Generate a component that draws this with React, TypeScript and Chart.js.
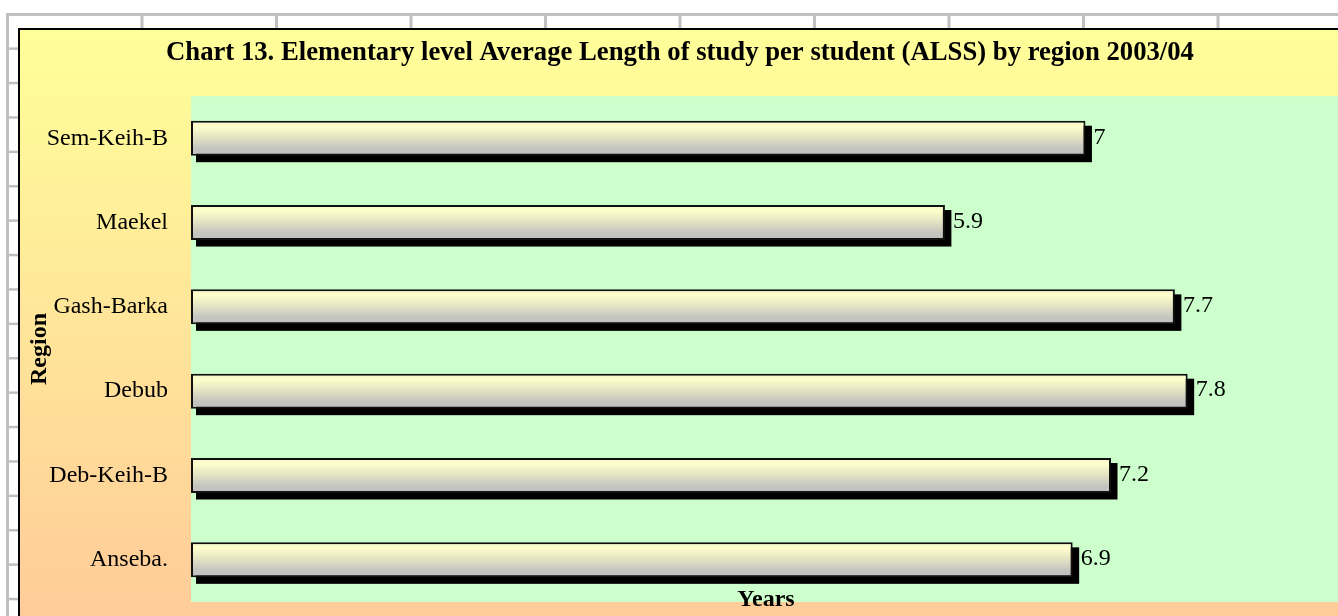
import React, { useEffect, useRef } from "react";
import { Chart, registerables } from "chart.js";

Chart.register(...registerables);

const categories: string[] = ["Sem-Keih-B", "Maekel", "Gash-Barka", "Debub", "Deb-Keih-B", "Anseba."];
const alssYears: number[] = [7, 5.9, 7.7, 7.8, 7.2, 6.9];
const chartTitle = "Chart 13. Elementary level Average Length of study per student (ALSS) by region 2003/04";
const xTitle = "Years";
const yTitle = "Region";
const xMax = 9;

const FONT = "'Liberation Serif', 'Times New Roman', serif";
const CANVAS_W = 1341;
const CANVAS_H = 620;
const BAR_PCT = 0.415;

const backgroundPlugin = {
  id: "excelBackground",
  beforeDraw(chart: any) {
    const { ctx, chartArea } = chart;
    ctx.save();
    ctx.fillStyle = "#ffffff";
    ctx.fillRect(0, 0, CANVAS_W, CANVAS_H);
    ctx.fillStyle = "#c0c0c0";
    const colW = 134.5;
    const rowH = 34.4;
    for (let x = 6; x < CANVAS_W; x += colW) ctx.fillRect(x, 13, 3, CANVAS_H);
    for (let y = 13; y < CANVAS_H; y += rowH) ctx.fillRect(6, y, CANVAS_W, y === 13 ? 3 : 2.5);
    const g = ctx.createLinearGradient(0, 30, 0, 612);
    g.addColorStop(0, "#ffff99");
    g.addColorStop(1, "#ffcc99");
    ctx.fillStyle = g;
    ctx.fillRect(19, 29, CANVAS_W + 10, CANVAS_H + 10);
    ctx.strokeStyle = "#000000";
    ctx.lineWidth = 2;
    ctx.strokeRect(19, 29, CANVAS_W + 10, CANVAS_H + 10);
    if (chartArea) {
      ctx.fillStyle = "#ccffcc";
      ctx.fillRect(chartArea.left, chartArea.top, chartArea.right - chartArea.left + 4, chartArea.bottom - chartArea.top);
    }
    ctx.restore();
  },
  beforeDatasetsDraw(chart: any) {
    const { ctx } = chart;
    const meta = chart.getDatasetMeta(0);
    ctx.save();
    ctx.fillStyle = "#000000";
    meta.data.forEach((el: any) => {
      const top = el.y - el.height / 2;
      const bottom = el.y + el.height / 2;
      ctx.fillRect(el.base + 5, top + 5, el.x + 6.5 - (el.base + 5), bottom + 6.5 - (top + 5));
    });
    ctx.restore();
  },
  afterDatasetsDraw(chart: any) {
    const { ctx } = chart;
    const meta = chart.getDatasetMeta(0);
    const values = chart.data.datasets[0].data;
    ctx.save();
    ctx.fillStyle = "#000000";
    ctx.font = `24px ${FONT}`;
    ctx.textAlign = "left";
    ctx.textBaseline = "middle";
    meta.data.forEach((el: any, i: number) => {
      ctx.fillText(String(values[i]), el.x + 8, el.y - 1);
    });
    ctx.restore();
  },
};

function barFill(context: any) {
  const chart = context.chart;
  const yScale = chart.scales?.y;
  const fallback = "#e0e0c8";
  if (!yScale || typeof context.dataIndex !== "number") return fallback;
  const center = yScale.getPixelForValue(context.dataIndex);
  const step = (yScale.bottom - yScale.top) / categories.length;
  const half = (step * BAR_PCT) / 2;
  if (!isFinite(center) || !isFinite(half) || half <= 0) return fallback;
  const g = chart.ctx.createLinearGradient(0, center - half, 0, center + half);
  g.addColorStop(0, "#f0f0cc");
  g.addColorStop(0.15, "#ffffcc");
  g.addColorStop(0.45, "#e6e6c4");
  g.addColorStop(0.8, "#c4c4c0");
  g.addColorStop(1, "#c0c0c0");
  return g;
}

export default function App() {
  const canvasRef = useRef<HTMLCanvasElement | null>(null);

  useEffect(() => {
    if (!canvasRef.current) return;
    const chart = new Chart(canvasRef.current, {
      type: "bar",
      data: {
        labels: categories,
        datasets: [
          {
            data: alssYears,
            backgroundColor: barFill as any,
            borderColor: "#111111",
            borderWidth: 2,
            borderSkipped: false,
            categoryPercentage: 1,
            barPercentage: BAR_PCT,
          },
        ],
      },
      options: {
        indexAxis: "y",
        responsive: false,
        animation: false,
        devicePixelRatio: 1,
        layout: { padding: { left: 19, top: 30, right: 0, bottom: 6 } },
        plugins: {
          legend: { display: false },
          tooltip: { enabled: false },
          title: {
            display: true,
            text: chartTitle,
            color: "#000000",
            font: { family: FONT, size: 26.7, weight: "bold" },
            padding: { top: 7, bottom: 27 },
          },
        },
        scales: {
          x: {
            min: 0,
            max: xMax,
            grid: { display: false },
            border: { display: false },
            ticks: { display: false },
            title: {
              display: true,
              text: xTitle,
              color: "#000000",
              font: { family: FONT, size: 24, weight: "bold" },
              padding: 0,
            },
            afterFit(scale: any) {
              scale.height = 12;
              scale.paddingLeft = 0;
              scale.paddingRight = 0;
            },
          },
          y: {
            grid: { display: false, drawTicks: false },
            border: { display: false },
            ticks: {
              color: "#000000",
              font: { family: FONT, size: 24 },
              padding: 23,
            },
            title: {
              display: true,
              text: yTitle,
              color: "#000000",
              font: { family: FONT, size: 24, weight: "bold" },
              padding: { top: 6, bottom: 0 },
            },
            afterFit(scale: any) {
              scale.width = 172;
              scale.paddingTop = 0;
              scale.paddingBottom = 0;
            },
          },
        },
      },
      plugins: [backgroundPlugin],
    });
    return () => chart.destroy();
  }, []);

  return (
    <div style={{ position: "absolute", left: 0, top: 0, width: 1338, height: 616, overflow: "hidden", background: "#fff" }}>
      <canvas ref={canvasRef} width={CANVAS_W} height={CANVAS_H} style={{ display: "block", width: CANVAS_W, height: CANVAS_H }} />
    </div>
  );
}
